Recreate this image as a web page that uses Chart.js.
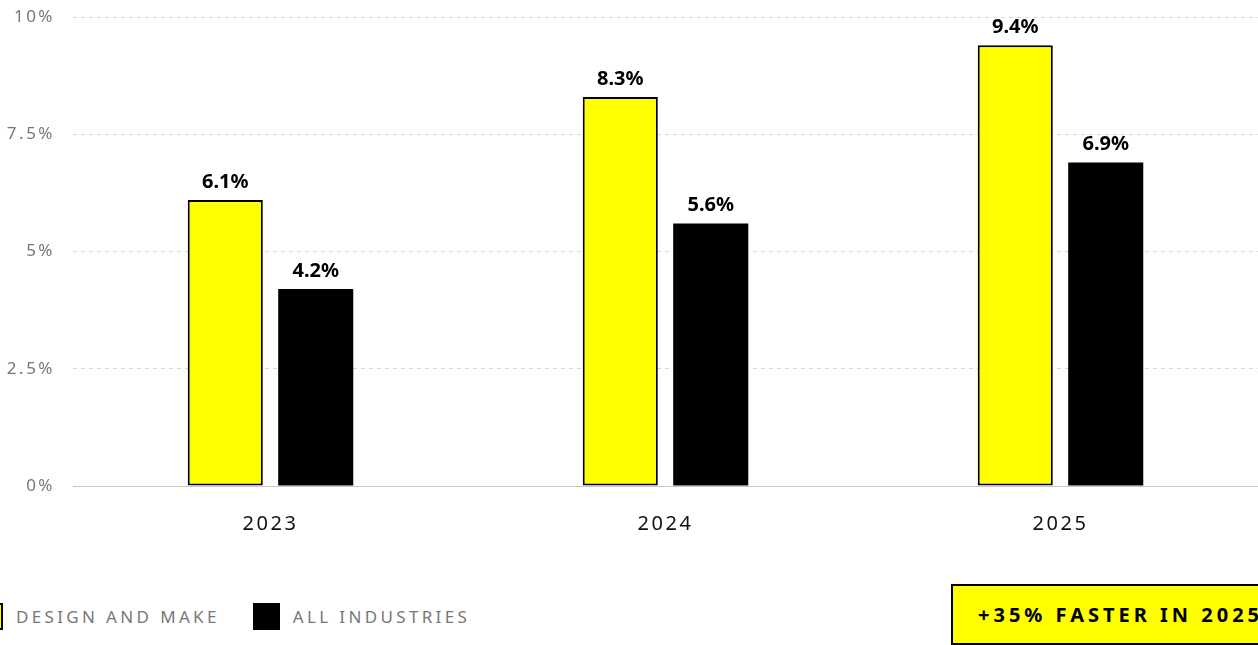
<!DOCTYPE html>
<html>
<head>
<meta charset="utf-8">
<script src="https://cdn.jsdelivr.net/npm/chart.js@4.4.1/dist/chart.umd.min.js"></script>
<style>
  html, body { margin: 0; padding: 0; background: #fff; overflow: hidden; }
  body { width: 1258px; height: 645px; position: relative; font-family: "Noto Sans", sans-serif; }
  #wrap { position: absolute; left: 0; top: -11px; width: 1258px; height: 573px; }
  .legend { position: absolute; top: 603px; left: -24px; display: flex; align-items: center; }
  .legend .box { width: 27px; height: 27px; box-sizing: border-box; }
  .legend .label { font-size: 17px; letter-spacing: 3.35px; color: #777; margin: 0 33px 0 13px; }
  .callout {
    position: absolute; left: 951px; top: 584px; width: 330px; height: 61px;
    box-sizing: border-box; border: 2px solid #000; background: #ffff00;
    font-weight: bold; font-size: 20px; letter-spacing: 4px; color: #000;
    padding-left: 25px; line-height: 57px; white-space: nowrap;
  }
</style>
</head>
<body>
<div id="wrap"><canvas id="chart"></canvas></div>
<div class="legend" id="legend"></div>
<div class="callout">+35% FASTER IN 2025</div>
<script>
const years = ['2023', '2024', '2025'];
const designAndMake = [6.1, 8.3, 9.4];
const allIndustries = [4.2, 5.6, 6.9];
const seriesNames = ['DESIGN AND MAKE', 'ALL INDUSTRIES'];
const yTicks = [0, 2.5, 5, 7.5, 10];

const YELLOW = '#ffff00';
const BLACK = '#000000';

// legend (html, sits below the canvas)
const legendEl = document.getElementById('legend');
[[YELLOW, '2px solid #000'], [BLACK, 'none']].forEach(([bg, border], i) => {
  const box = document.createElement('span');
  box.className = 'box';
  box.style.background = bg;
  box.style.border = border;
  const label = document.createElement('span');
  label.className = 'label';
  label.textContent = seriesNames[i];
  legendEl.appendChild(box);
  legendEl.appendChild(label);
});

const spacing = {
  id: 'spacing',
  beforeDraw(chart) { chart.ctx.letterSpacing = '2.5px'; },
  afterDraw(chart) { chart.ctx.letterSpacing = '0px'; },
};

const valueLabels = {
  id: 'valueLabels',
  afterDatasetsDraw(chart) {
    const ctx = chart.ctx;
    ctx.save();
    ctx.letterSpacing = '0px';
    ctx.font = 'bold 20px "Noto Sans", sans-serif';
    ctx.fillStyle = '#000';
    ctx.textAlign = 'center';
    ctx.textBaseline = 'bottom';
    chart.data.datasets.forEach((ds, di) => {
      chart.getDatasetMeta(di).data.forEach((bar, i) => {
        ctx.fillText(ds.data[i].toFixed(1) + '%', bar.x, bar.y - 8);
      });
    });
    ctx.restore();
  },
};

new Chart(document.getElementById('chart'), {
  type: 'bar',
  data: {
    labels: years,
    datasets: [
      {
        label: seriesNames[0],
        data: designAndMake,
        backgroundColor: YELLOW,
        borderColor: BLACK,
        borderWidth: 2,
        borderSkipped: false,
        categoryPercentage: 0.458,
        barPercentage: 0.83,
      },
      {
        label: seriesNames[1],
        data: allIndustries,
        backgroundColor: BLACK,
        borderWidth: 0,
        categoryPercentage: 0.458,
        barPercentage: 0.83,
      },
    ],
  },
  options: {
    responsive: true,
    maintainAspectRatio: false,
    animation: false,
    layout: { padding: { top: 0, right: 0, left: 0, bottom: 0 } },
    plugins: { legend: { display: false }, tooltip: { enabled: false } },
    scales: {
      x: {
        grid: { display: false, drawTicks: false },
        border: { display: false },
        ticks: {
          color: '#111',
          padding: 26,
          font: { family: '"Noto Sans", sans-serif', size: 20 },
        },
      },
      y: {
        min: 0,
        max: 10,
        afterBuildTicks(scale) { scale.ticks = yTicks.map((v) => ({ value: v })); },
        afterFit(scale) { scale.width = 73; },
        grid: {
          color: (c) => (c.tick && c.tick.value === 0 ? '#c8c8c8' : '#d6d6d6'),
          lineWidth: 1,
          drawTicks: false,
        },
        border: {
          display: false,
          dash: (c) => (c.tick && c.tick.value === 0 ? [] : [4, 4]),
        },
        ticks: {
          color: '#777',
          padding: 18,
          font: { family: '"Noto Sans", sans-serif', size: 17 },
          callback: (v) => v + '%',
        },
      },
    },
  },
  plugins: [spacing, valueLabels],
});
</script>
</body>
</html>
